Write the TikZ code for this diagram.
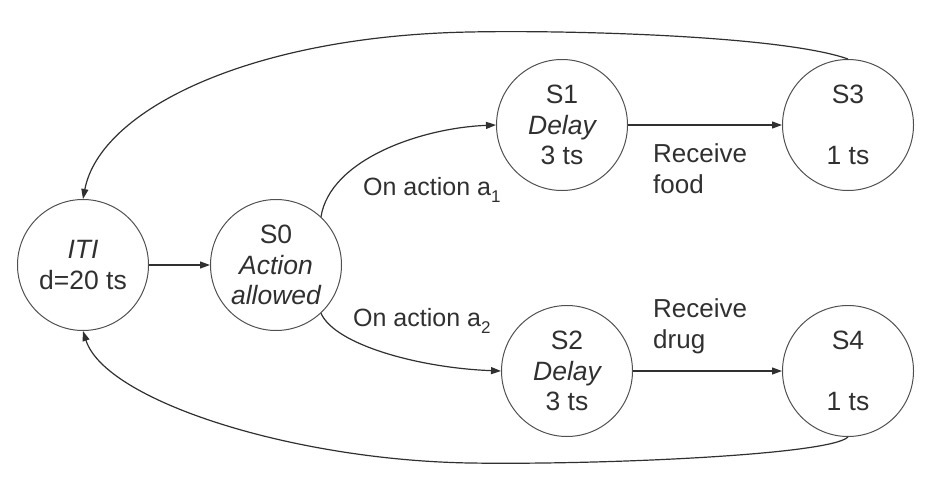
\documentclass[tikz,border=0pt]{standalone}
\usepackage{fontspec}
\setmainfont{Liberation Sans}
\usetikzlibrary{arrows.meta}
\definecolor{ink}{HTML}{303030}
\definecolor{rim}{HTML}{505050}
\newcommand{\lowsub}[1]{\raisebox{-7pt}{\fontsize{17}{17}\selectfont #1}}
\begin{document}
\begin{tikzpicture}[x=1pt,y=-1pt,
  state/.style={circle,draw=rim,line width=1pt,minimum size=131pt,inner sep=0pt,
    align=center,text=ink,font=\fontsize{26.5}{30.5}\selectfont},
  lbl/.style={text=ink,font=\fontsize{26}{31}\selectfont,inner sep=0pt},
  conn/.style={draw=ink,line width=1.2pt,-{Triangle[length=10pt,width=7pt]}}]
\useasboundingbox (0,0) rectangle (936,484);
\node[state] (iti) at (83,265) {\itshape ITI\\d=20 ts};
\node[state] (s0) at (276,265) {S0\\\itshape Action\\\itshape allowed};
\node[state] (s1) at (562,125) {S1\\\itshape Delay\\3 ts};
\node[state] (s2) at (567,371) {S2\\\itshape Delay\\3 ts};
\node[state] (s3) at (848,125) {S3\\ \\1 ts};
\node[state] (s4) at (848,371) {S4\\ \\1 ts};
\node[lbl,anchor=base west,font=\fontsize{25}{30}\selectfont] (la1) at (363,195) {On action a\lowsub{1}};
\node[lbl,anchor=base west,font=\fontsize{25}{30}\selectfont] (la2) at (353,326) {On action a\lowsub{2}};
\node[lbl,anchor=west,align=left] (lfood) at (653,169) {Receive\\food};
\node[lbl,anchor=west,align=left] (ldrug) at (653,326) {Receive\\drug};
\draw[conn] (iti) -- (s0);
\draw[conn] (s1) -- (s3);
\draw[conn] (s2) -- (s4);
\draw[conn] (s0.47) .. controls (330,160) and (420,128) .. (s1.west);
\draw[conn] (s0.-47) .. controls (335,345) and (420,368) .. (s2.west);
\coordinate (topmid) at (470,32);
\coordinate (botmid) at (470,463);
\draw[conn] (s3.north) .. controls (780,35) and (560,30) .. (topmid)
   .. controls (250,36) and (100,110) .. (iti.north);
\draw[conn] (s4.south) .. controls (830,455) and (600,465) .. (botmid)
   .. controls (290,460) and (105,400) .. (iti.south);
\end{tikzpicture}
\end{document}
